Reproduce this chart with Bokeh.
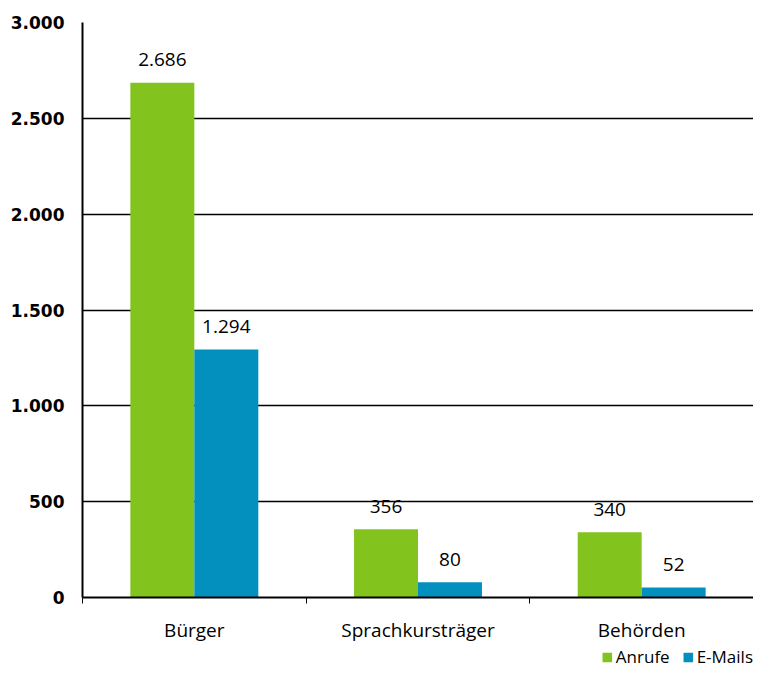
from bokeh.plotting import figure
from bokeh.models import FixedTicker, Legend, LegendItem, ColumnDataSource
from bokeh.layouts import column
from bokeh.embed import file_html
from bokeh.resources import INLINE
from bokeh.core.properties import value

categories = ["Bürger", "Sprachkursträger", "Behörden"]
anrufe = [2686, 356, 340]
emails = [1294, 80, 52]
anrufe_labels = ["2.686", "356", "340"]
emails_labels = ["1.294", "80", "52"]
series_names = ["Anrufe", "E-Mails"]
y_ticks = [0, 500, 1000, 1500, 2000, 2500, 3000]
y_tick_labels = ["0", "500", "1.000", "1.500", "2.000", "2.500", "3.000"]

GREEN = "#82C31E"
BLUE = "#0390BF"
BW = 0.286

p = figure(width=753, height=645, output_backend="svg", toolbar_location=None,
           x_range=(0, 3), y_range=(0, 3000),
           min_border_left=82, min_border_top=22, min_border_bottom=47, min_border_right=0)
p.outline_line_color = None
p.background_fill_color = "white"
p.border_fill_color = "white"

idx = list(range(len(categories)))
src_a = ColumnDataSource(dict(x=[i + 0.5 - BW / 2 for i in idx], top=anrufe, lab=anrufe_labels))
src_e = ColumnDataSource(dict(x=[i + 0.5 + BW / 2 for i in idx], top=emails, lab=emails_labels))

# grid
p.xgrid.visible = False
p.ygrid.grid_line_color = "black"
p.ygrid.grid_line_width = 1.5
p.ygrid.ticker = FixedTicker(ticks=y_ticks)

p.vbar(x="x", top="top", width=BW, bottom=0, source=src_a, fill_color=GREEN, line_color=None)
p.vbar(x="x", top="top", width=BW, bottom=0, source=src_e, fill_color=BLUE, line_color=None)

for src in (src_a, src_e):
    p.text(x="x", y="top", text="lab", source=src, text_align="center", text_baseline="middle",
           y_offset=-23, text_font=value("Open Sans"), text_font_size="19px", text_color="black")

# y axis
p.yaxis.ticker = FixedTicker(ticks=y_ticks)
p.yaxis.major_label_overrides = {t: l for t, l in zip(y_ticks, y_tick_labels)}
p.yaxis.major_label_text_font = "DejaVu Sans"
p.yaxis.major_label_text_font_style = "bold"
p.yaxis.major_label_text_font_size = "17px"
p.yaxis.major_label_text_color = "black"
p.yaxis.major_label_standoff = 18
p.yaxis.major_tick_line_color = None
p.yaxis.major_tick_in = 0
p.yaxis.major_tick_out = 0
p.yaxis.minor_tick_line_color = None
p.yaxis.axis_line_color = "black"
p.yaxis.axis_line_width = 2

# x axis
p.xaxis.ticker = FixedTicker(ticks=[i + 0.5 for i in idx], minor_ticks=[0, 1, 2, 3])
p.xaxis.major_label_overrides = {i + 0.5: c for i, c in zip(idx, categories)}
p.xaxis.major_label_text_font = "Open Sans"
p.xaxis.major_label_text_font_size = "19px"
p.xaxis.major_label_text_color = "black"
p.xaxis.major_label_standoff = 13
p.xaxis.major_tick_line_color = None
p.xaxis.major_tick_in = 0
p.xaxis.major_tick_out = 6
p.xaxis.minor_tick_line_color = "black"
p.xaxis.minor_tick_in = 0
p.xaxis.minor_tick_out = 6
p.xaxis.minor_tick_line_width = 1
p.xaxis.axis_line_color = "black"
p.xaxis.axis_line_width = 2

# legend strip (proxy bars lie outside the strip's visible range)
lg = figure(width=753, height=23, output_backend="svg", toolbar_location=None,
            x_range=(0, 1), y_range=(0, 1), min_border=0)
lg.axis.visible = False
lg.grid.visible = False
lg.outline_line_color = None
ga = lg.vbar(x=[-5], top=[-5], bottom=[-6], width=0.1, fill_color=GREEN, line_color=None)
gb = lg.vbar(x=[-5], top=[-5], bottom=[-6], width=0.1, fill_color=BLUE, line_color=None)
legend = Legend(items=[LegendItem(label=series_names[0], renderers=[ga]),
                       LegendItem(label=series_names[1], renderers=[gb])],
                orientation="horizontal", location="top_right",
                glyph_width=12, glyph_height=12, label_standoff=3, spacing=12,
                label_height=20, label_text_line_height=1.0,
                padding=0, margin=0, border_line_color=None, background_fill_alpha=0,
                label_text_font="Open Sans", label_text_font_size="17px",
                label_text_color="black")
lg.add_layout(legend, "center")

open("out.html", "w").write(file_html(column(p, lg, spacing=0), INLINE))
